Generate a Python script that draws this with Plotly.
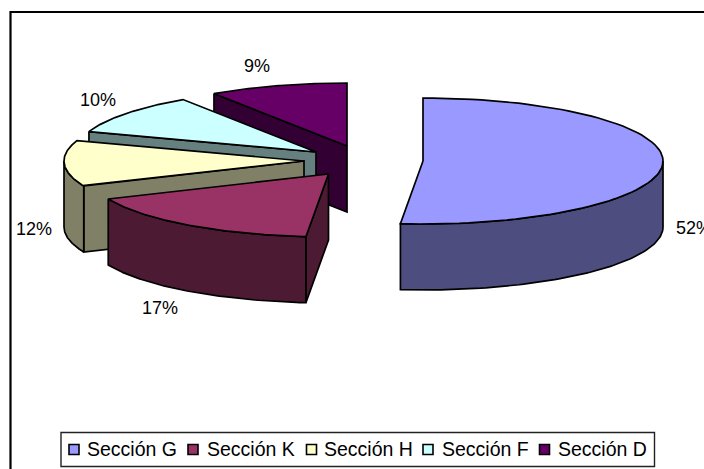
import numpy as np
import plotly.graph_objects as go

categories = ["Sección G", "Sección K", "Sección H", "Sección F", "Sección D"]
shares = [51.5, 17.0, 11.75, 10.4, 9.35]
top_colors = ["#9999FF", "#993366", "#FFFFCC", "#CCFFFF", "#660066"]
side_colors = ["#4D4D80", "#4D1A33", "#808066", "#668080", "#330033"]

# Layout of the exploded pie, in page pixels
apex_x = [423, 328.5, 304, 316, 347]
apex_y = [161, 174, 161, 152, 146]
RX, RY, DEPTH = 240, 63, 66
W, H = 704, 469
FONT = "Liberation Sans, Arial, sans-serif"
LINE = 1.7

label_x = [694, 160, 34, 98, 257]
label_y = [228, 308, 229, 100, 66]

# Legend layout
swatch_x = [74, 193, 311.5, 428, 544.5]
legend_text_x = [86, 206, 323, 441, 557]
SWATCH_Y, LEGEND_TEXT_Y = 449.5, 449

cum = np.cumsum([0] + shares)
start = cum[:-1] / 100 * 2 * np.pi
end = cum[1:] / 100 * 2 * np.pi


def rim(i, a0, a1, n=80):
    t = np.linspace(a0, a1, n)
    return apex_x[i] + RX * np.sin(t), apex_y[i] - RY * np.cos(t)


fig = go.Figure()


def poly(x, y, color):
    fig.add_trace(go.Scatter(
        x=list(x) + [x[0]], y=list(y) + [y[0]], mode="lines", fill="toself",
        fillcolor=color, line=dict(color="black", width=LINE),
        hoverinfo="skip", showlegend=False))


def cut_face(i, a):
    ax, ay = apex_x[i], apex_y[i]
    rx_, ry_ = rim(i, a, a, 1)
    px, py = rx_[0], ry_[0]
    poly([px, ax, ax, px], [py, ay, ay + DEPTH, py + DEPTH], side_colors[i])


def draw_slice(i):
    a0, a1 = start[i], end[i]
    # flat cut faces that look toward the viewer
    if np.sin(a0) < 0:
        cut_face(i, a0)
    if np.sin(a1) > 0:
        cut_face(i, a1)
    # outer wall on the front half of the rim
    w0, w1 = max(a0, np.pi / 2), min(a1, 3 * np.pi / 2)
    if w1 > w0:
        rxs, rys = rim(i, w0, w1)
        poly(list(rxs) + list(rxs[::-1]), list(rys) + list(rys[::-1] + DEPTH), side_colors[i])
    # top face
    rxs, rys = rim(i, a0, a1)
    poly([apex_x[i]] + list(rxs), [apex_y[i]] + list(rys), top_colors[i])


for i in [4, 3, 2, 1, 0]:
    draw_slice(i)

for s, lx, ly in zip(shares, label_x, label_y):
    fig.add_annotation(x=lx, y=ly, text=f"{round(s)}%", showarrow=False,
                       font=dict(family=FONT, size=18, color="black"))

# chart frame and legend box
fig.add_shape(type="rect", x0=10.5, y0=12, x1=720, y1=480,
              line=dict(color="black", width=2.2), fillcolor="rgba(0,0,0,0)", layer="below")
fig.add_shape(type="rect", x0=61, y0=432.5, x1=654.5, y1=466.5,
              line=dict(color="#222222", width=1.4), fillcolor="white", layer="below")

# legend swatches and labels
fig.add_trace(go.Scatter(
    x=swatch_x, y=[SWATCH_Y] * 5, mode="markers", hoverinfo="skip", showlegend=False,
    marker=dict(symbol="square", size=10, color=top_colors, line=dict(color="black", width=1.6))))
for name, tx in zip(categories, legend_text_x):
    fig.add_annotation(x=tx, y=LEGEND_TEXT_Y, text=name, showarrow=False, xanchor="left",
                       xshift=-1, font=dict(family=FONT, size=19.5, color="black"))

fig.update_layout(
    width=W, height=H, margin=dict(l=0, r=0, t=0, b=0), autosize=False,
    paper_bgcolor="white", plot_bgcolor="white", showlegend=False,
    xaxis=dict(range=[0, W], visible=False, fixedrange=True),
    yaxis=dict(range=[H, 0], visible=False, fixedrange=True),
    font=dict(family=FONT, color="black"),
)

fig.write_html("out.html", config={"displayModeBar": False},
               post_script="document.body.style.margin='0';")
